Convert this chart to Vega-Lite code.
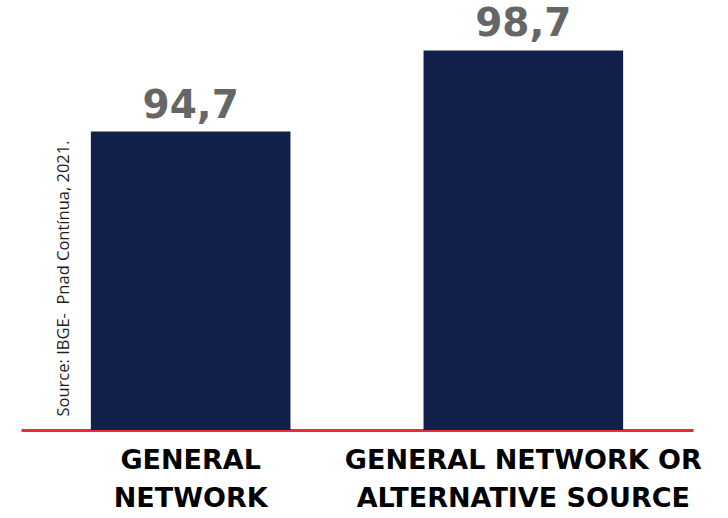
{
  "$schema": "https://vega.github.io/schema/vega-lite/v6.json",
  "autosize": "none",
  "padding": {"left": 21, "top": 24, "right": 35, "bottom": 88},
  "width": 672,
  "height": 406,
  "config": {
    "view": {"stroke": null},
    "locale": {"number": {"decimal": ",", "thousands": ".", "grouping": [3], "currency": ["R$", ""]}}
  },
  "data": {
    "values": [
      {"category": "GENERAL NETWORK", "value": 94.7},
      {"category": "GENERAL NETWORK OR ALTERNATIVE SOURCE", "value": 98.7}
    ]
  },
  "encoding": {
    "x": {
      "field": "category",
      "type": "nominal",
      "sort": null,
      "scale": {"paddingInner": 0.4, "paddingOuter": 0.21},
      "axis": {
        "title": null,
        "labelAngle": 0,
        "ticks": false,
        "tickSize": 0,
        "domainColor": "#EC2A3E",
        "domainWidth": 3,
        "labelPadding": 17,
        "labelFont": "DejaVu Sans",
        "labelFontWeight": "bold",
        "labelFontSize": 27,
        "labelColor": "#000000",
        "labelLineHeight": 38,
        "labelLimit": 0,
        "labelExpr": "datum.value == 'GENERAL NETWORK' ? ['GENERAL', 'NETWORK'] : ['GENERAL NETWORK OR', 'ALTERNATIVE SOURCE']"
      }
    },
    "y": {
      "field": "value",
      "type": "quantitative",
      "scale": {"domain": [80, 100], "zero": false, "clamp": true},
      "axis": {
        "title": "Source: IBGE-\u00a0 Pnad Contínua, 2021.",
        "domain": false,
        "ticks": false,
        "labels": false,
        "grid": false,
        "titleAngle": -90,
        "titleAlign": "left",
        "titleBaseline": "middle",
        "titleX": 42,
        "titleY": 392,
        "titleFont": "Open Sans",
        "titleFontWeight": "normal",
        "titleFontSize": 16.5,
        "titleColor": "#1E1E1E"
      }
    }
  },
  "layer": [
    {"mark": {"type": "bar", "color": "#10204B"}},
    {
      "mark": {
        "type": "text",
        "dy": -14,
        "baseline": "alphabetic",
        "font": "DejaVu Sans",
        "fontWeight": "bold",
        "fontSize": 39,
        "color": "#666666"
      },
      "encoding": {"text": {"field": "value", "type": "quantitative", "format": ".1f"}}
    }
  ]
}
